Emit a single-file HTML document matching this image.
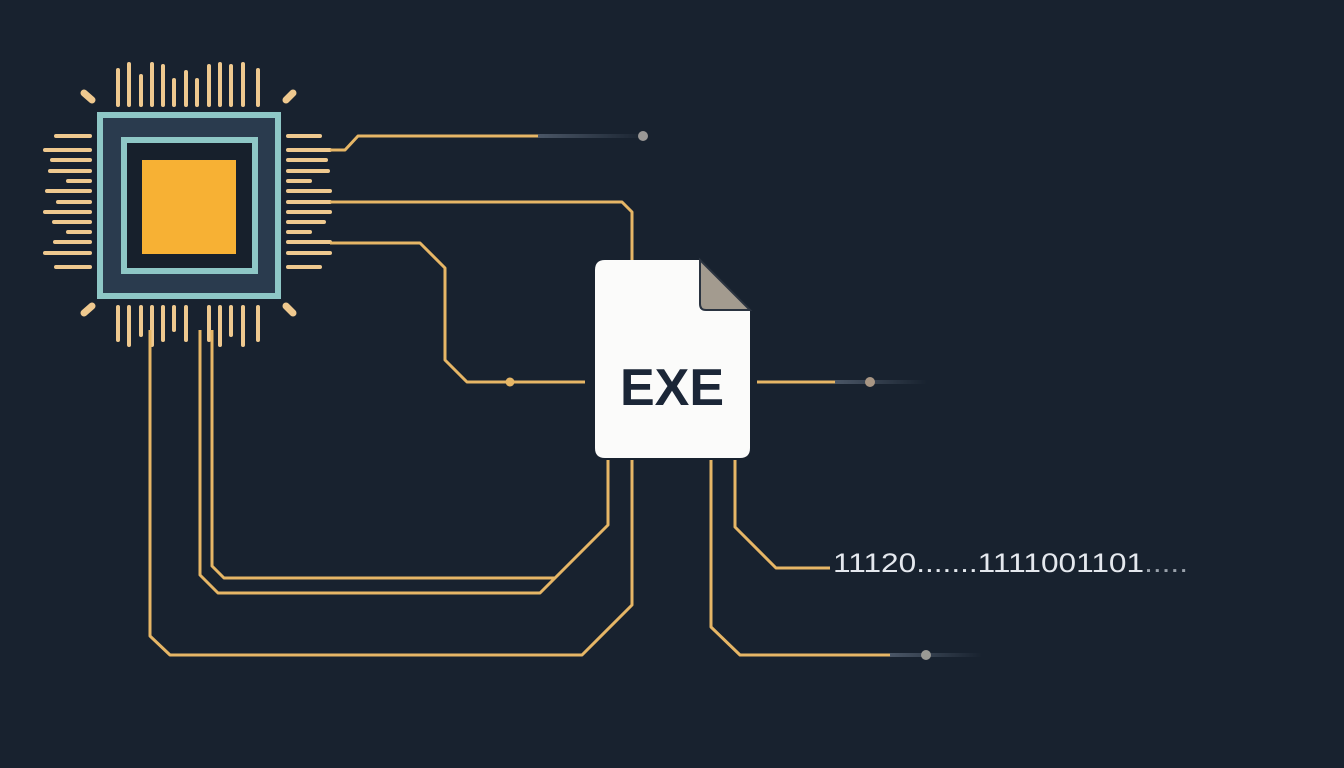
<!DOCTYPE html><html><head><style>body{margin:0;background:#18222f}svg{display:block}</style></head><body>
<svg width="1344" height="768" viewBox="0 0 1344 768" xmlns="http://www.w3.org/2000/svg">
<defs><linearGradient id="f" x1="0" x2="1"><stop offset="0" stop-color="#4a5666"/><stop offset="1" stop-color="#4a5666" stop-opacity="0"/></linearGradient></defs>
<rect width="1344" height="768" fill="#18222f"/>
<g stroke="#efc98f" stroke-width="4" stroke-linecap="round">
<line x1="118" y1="70" x2="118" y2="105"/><line x1="129" y1="64" x2="129" y2="105"/><line x1="141" y1="76" x2="141" y2="105"/><line x1="152" y1="64" x2="152" y2="105"/><line x1="163" y1="66" x2="163" y2="105"/><line x1="174" y1="80" x2="174" y2="105"/><line x1="186" y1="72" x2="186" y2="105"/><line x1="197" y1="80" x2="197" y2="105"/><line x1="209" y1="66" x2="209" y2="105"/><line x1="220" y1="64" x2="220" y2="105"/><line x1="231" y1="66" x2="231" y2="105"/><line x1="243" y1="64" x2="243" y2="105"/><line x1="258" y1="70" x2="258" y2="105"/>
<line x1="118" y1="307" x2="118" y2="340"/><line x1="129" y1="307" x2="129" y2="345"/><line x1="141" y1="307" x2="141" y2="335"/><line x1="152" y1="307" x2="152" y2="345"/><line x1="163" y1="307" x2="163" y2="340"/><line x1="174" y1="307" x2="174" y2="330"/><line x1="186" y1="307" x2="186" y2="340"/><line x1="209" y1="307" x2="209" y2="340"/><line x1="220" y1="307" x2="220" y2="345"/><line x1="231" y1="307" x2="231" y2="335"/><line x1="243" y1="307" x2="243" y2="345"/><line x1="258" y1="307" x2="258" y2="340"/>
<line x1="56" y1="136" x2="90" y2="136"/><line x1="45" y1="150" x2="90" y2="150"/><line x1="52" y1="160" x2="90" y2="160"/><line x1="50" y1="171" x2="90" y2="171"/><line x1="68" y1="181" x2="90" y2="181"/><line x1="47" y1="191" x2="90" y2="191"/><line x1="58" y1="202" x2="90" y2="202"/><line x1="45" y1="212" x2="90" y2="212"/><line x1="54" y1="222" x2="90" y2="222"/><line x1="68" y1="232" x2="90" y2="232"/><line x1="55" y1="242" x2="90" y2="242"/><line x1="45" y1="253" x2="90" y2="253"/><line x1="56" y1="267" x2="90" y2="267"/>
<line x1="288" y1="136" x2="320" y2="136"/><line x1="288" y1="150" x2="330" y2="150"/><line x1="288" y1="160" x2="326" y2="160"/><line x1="288" y1="171" x2="328" y2="171"/><line x1="288" y1="181" x2="310" y2="181"/><line x1="288" y1="191" x2="330" y2="191"/><line x1="288" y1="202" x2="330" y2="202"/><line x1="288" y1="212" x2="330" y2="212"/><line x1="288" y1="222" x2="324" y2="222"/><line x1="288" y1="232" x2="310" y2="232"/><line x1="288" y1="242" x2="330" y2="242"/><line x1="288" y1="253" x2="330" y2="253"/><line x1="288" y1="267" x2="320" y2="267"/>
<g stroke-width="7"><line x1="84" y1="93" x2="92" y2="100"/><line x1="286" y1="100" x2="293" y2="93"/><line x1="84" y1="313" x2="92" y2="306"/><line x1="286" y1="306" x2="293" y2="313"/></g>
</g>
<rect x="100" y="115" width="178" height="181" fill="#2a3b4e" stroke="#8ec7c6" stroke-width="6"/>
<rect x="124" y="140" width="131" height="131" fill="#17202c" stroke="#8ec7c6" stroke-width="6"/>
<rect x="142" y="160" width="94" height="94" fill="#f7b134"/>
<g fill="none" stroke="#e6b666" stroke-width="3" stroke-linejoin="round">
<path d="M330 150 H345 L358 136 H538"/>
<path d="M330 202 H622 L632 212 V262"/>
<path d="M330 243 H420 L445 268 V360 L467 382 H585"/>
<path d="M150 330 V636 L170 655 H582 L632 605 V460"/>
<path d="M200 330 V575 L218 593 H540 L608 525 V460"/>
<path d="M212 330 V566 L224 578 H555"/>
<path d="M757 382 H835"/>
<path d="M711 460 V627 L740 655 H890"/>
<path d="M735 460 V527 L776 568 H830"/>
</g>
<rect x="538" y="134" width="110" height="4" fill="url(#f)"/><circle cx="643" cy="136" r="5" fill="#9a9896"/>
<rect x="835" y="380" width="92" height="4" fill="url(#f)"/><circle cx="870" cy="382" r="5" fill="#a89684"/>
<rect x="890" y="653" width="92" height="4" fill="url(#f)"/><circle cx="926" cy="655" r="5" fill="#9a9a94"/>
<circle cx="510" cy="382" r="4.5" fill="#e6b666"/>
<path d="M605 260 H700 L750 310 V448 Q750 458 740 458 H605 Q595 458 595 448 V270 Q595 260 605 260 Z" fill="#fbfbfa"/>
<path d="M700 260 L750 310 H706 Q700 310 700 304 Z" fill="#a39b8f" stroke="#2a3340" stroke-width="2"/>
<text x="672" y="405" text-anchor="middle" font-family="Liberation Sans, sans-serif" font-weight="bold" font-size="52" fill="#1b2637">EXE</text>
<text x="833" y="572" font-family="Liberation Sans, sans-serif" font-size="27" fill="#e4e8ee" textLength="355" lengthAdjust="spacingAndGlyphs">11120.......1111001101<tspan fill="#9aa2ac">.....</tspan></text>
</svg>
</body></html>
